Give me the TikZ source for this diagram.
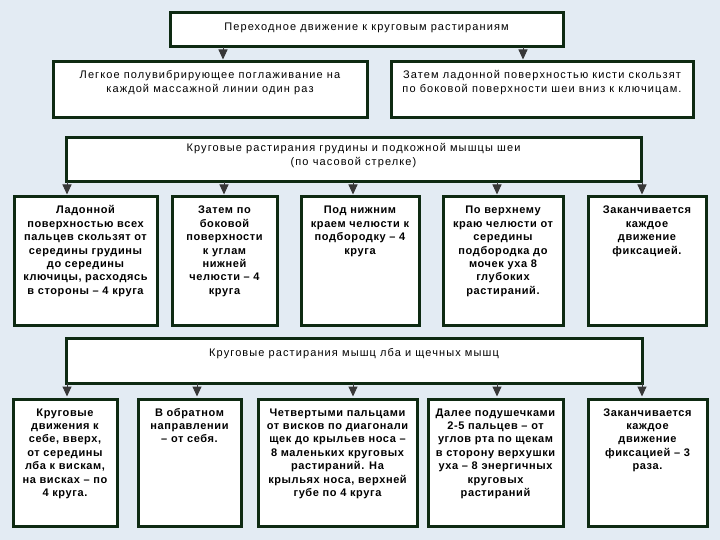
\documentclass[tikz,border=0pt]{standalone}
\usepackage{fontspec}
\setmainfont{Liberation Sans}
\newfontfamily\hdfont[LetterSpace=10]{Liberation Sans}
\newfontfamily\bdfont[LetterSpace=5.5]{Liberation Sans}
\usetikzlibrary{arrows.meta}
\definecolor{bgc}{RGB}{227,235,243}
\definecolor{bord}{RGB}{14,42,18}
\definecolor{arrc}{RGB}{55,55,55}
\tikzset{
  box/.style={draw=bord, line width=3pt, fill=white, inner sep=0pt, outer sep=0pt},
  conn/.style={draw=arrc, line width=1pt, shorten >=2.5pt, -{Triangle[width=9pt,length=10pt]}},
  hfont/.style={font=\hdfont\fontsize{11}{13.5}\selectfont},
  bfont/.style={font=\bdfont\bfseries\fontsize{11}{13.4}\selectfont}
}
% name, x1, y1, x2, y2, first-baseline offset, style, text
\newcommand\bx[8]{%
  \pgfmathsetlengthmacro\bw{#4-#2}%
  \pgfmathsetlengthmacro\bh{#5-#3}%
  \node[box, #7, anchor=north west] (#1) at (#2,#3)
    {\parbox[t][\bh][t]{\bw}{\centering\rule{0pt}{#6pt}#8\par}};}
\begin{document}
\begin{tikzpicture}[x=1pt,y=-1pt]
\useasboundingbox (0,0) rectangle (720,540);
\fill[bgc] (0,0) rectangle (720,540);

% x positions of connectors
\coordinate (xa) at (223,0);
\coordinate (xb) at (523,0);
\coordinate (c1) at (67,0);
\coordinate (c2) at (224,0);
\coordinate (c3) at (353,0);
\coordinate (c4) at (497,0);
\coordinate (c5) at (642,0);
\coordinate (d2) at (197,0);

\bx{top}{170}{13}{563}{47}{18}{hfont}{Переходное движение к круговым растираниям}

\bx{l2}{53}{62}{367}{118}{17}{hfont}{Легкое полувибрирующее поглаживание на\\каждой массажной линии один раз}
\bx{r2}{391}{62}{693}{118}{17}{hfont}{Затем ладонной поверхностью кисти скользят\\по боковой поверхности шеи вниз к ключицам.}

\bx{w1}{66}{138}{641}{182}{14}{hfont}{Круговые растирания грудины и подкожной мышцы шеи\\(по часовой стрелке)}

\bx{a1}{14}{197}{157}{325}{17}{bfont}{Ладонной\\поверхностью всех\\пальцев скользят от\\середины грудины\\до середины\\ключицы, расходясь\\в стороны – 4 круга}
\bx{a2}{172}{197}{277}{325}{17}{bfont}{Затем по\\боковой\\поверхности\\к углам\\нижней\\челюсти – 4\\круга}
\bx{a3}{301}{197}{419}{325}{17}{bfont}{Под нижним\\краем челюсти к\\подбородку – 4\\круга}
\bx{a4}{443}{197}{563}{325}{17}{bfont}{По верхнему\\краю челюсти от\\середины\\подбородка до\\мочек уха 8\\глубоких\\растираний.}
\bx{a5}{588}{197}{706}{325}{17}{bfont}{Заканчивается\\каждое\\движение\\фиксацией.}

\bx{w2}{66}{338}{642}{383}{18}{hfont}{Круговые растирания мышц лба и щечных мышц}

\bx{b1}{13}{399}{117}{526}{17}{bfont}{Круговые\\движения к\\себе, вверх,\\от середины\\лба к вискам,\\на висках – по\\4 круга.}
\bx{b2}{138}{399}{241}{526}{17}{bfont}{В обратном\\направлении\\– от себя.}
\bx{b3}{258}{399}{417}{526}{17}{bfont}{Четвертыми пальцами\\от висков по диагонали\\щек до крыльев носа –\\8 маленьких круговых\\растираний. На\\крыльях носа, верхней\\губе по 4 круга}
\bx{b4}{428}{399}{563}{526}{17}{bfont}{Далее подушечками\\2-5 пальцев – от\\углов рта по щекам\\в сторону верхушки\\уха – 8 энергичных\\круговых\\растираний}
\bx{b5}{588}{399}{707}{526}{17}{bfont}{Заканчивается\\каждое\\движение\\фиксацией – 3\\раза.}

% connectors
\draw[conn] (top.south -| xa) -- (l2.north -| xa);
\draw[conn] (top.south -| xb) -- (r2.north -| xb);

\draw[conn] (w1.south -| c1) -- (a1.north -| c1);
\draw[conn] (w1.south -| c2) -- (a2.north -| c2);
\draw[conn] (w1.south -| c3) -- (a3.north -| c3);
\draw[conn] (w1.south -| c4) -- (a4.north -| c4);
\draw[conn] (w1.south -| c5) -- (a5.north -| c5);

\draw[conn] (w2.south -| c1) -- (b1.north -| c1);
\draw[conn] (w2.south -| d2) -- (b2.north -| d2);
\draw[conn] (w2.south -| c3) -- (b3.north -| c3);
\draw[conn] (w2.south -| c4) -- (b4.north -| c4);
\draw[conn] (w2.south -| c5) -- (b5.north -| c5);
\end{tikzpicture}
\end{document}
